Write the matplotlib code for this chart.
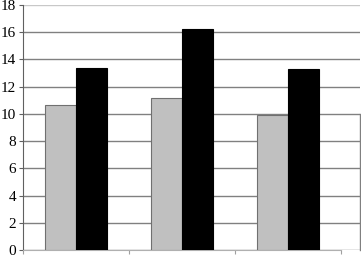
import matplotlib
matplotlib.use("Agg")
import matplotlib.pyplot as plt
import numpy as np

# data
groups = ["A", "B", "C"]
light_vals = [10.65, 11.2, 9.92]
dark_vals = [13.35, 16.24, 13.28]
yticks = list(range(0, 20, 2))

plt.rcParams["font.family"] = ["Liberation Serif", "DejaVu Serif"]

fig = plt.figure(figsize=(3.61, 2.57), dpi=100)
ax = fig.add_axes([23/361, 7/257, 337/361, 245/257])

x = np.arange(len(groups))
w = 0.295
ax.bar(x-w/2, light_vals, w, color="#c0c0c0", edgecolor="#707070", linewidth=0.8, zorder=3)
ax.bar(x+w/2, dark_vals, w, color="black", edgecolor="black", linewidth=0.8, zorder=3)

ax.set_ylim(0, 18)
ax.set_xlim(-0.5, 2.68)
ax.set_yticks(yticks)
ax.set_yticklabels([str(v) for v in yticks], fontsize=11)
ax.yaxis.grid(True, color="#808080", linewidth=1)
ax.get_ygridlines()[-1].set_color("#c8c8c8")
ax.set_axisbelow(True)

ax.set_xticks([-0.5, 0.5, 1.5, 2.5])
ax.set_xticklabels([])
ax.tick_params(axis="x", direction="out", length=3, color="#a0a0a0", width=0.8)
ax.tick_params(axis="y", direction="out", length=3, color="#606060", width=0.8, pad=2)

for s in ["top", "right"]:
    ax.spines[s].set_visible(False)
ax.spines["left"].set_color("#606060")
ax.spines["bottom"].set_color("#b0b0b0")
ax.spines["bottom"].set_bounds(-0.5, 2.5)
ax.axvline(2.68, ymin=0, ymax=10/18, color="#808080", linewidth=1, clip_on=False)

fig.savefig("out.png", dpi=100)
